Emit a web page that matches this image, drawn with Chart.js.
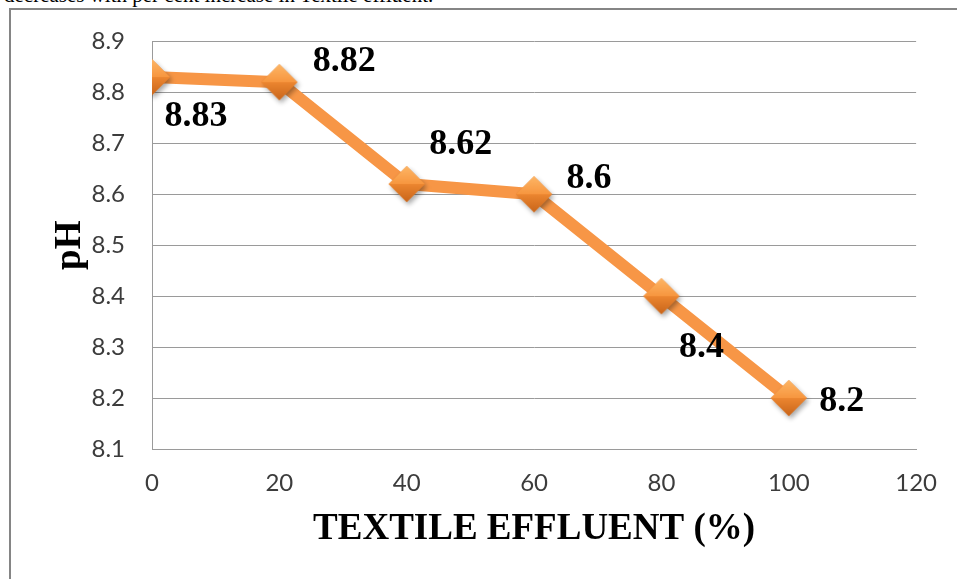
<!DOCTYPE html>
<html>
<head>
<meta charset="utf-8">
<script src="https://cdn.jsdelivr.net/npm/chart.js@4.4.1/dist/chart.umd.min.js"></script>
<style>
  html, body { margin: 0; padding: 0; background: #fff; overflow: hidden; }
  #wrap { position: relative; width: 957px; height: 579px; }
  #caption {
    position: absolute; left: 4px; top: -15px;
    font: 21px "Liberation Serif", serif; line-height: 21px; color: #000; white-space: nowrap;
  }
  #frame {
    position: absolute; left: 9px; top: 8px; width: 980px; height: 620px;
    border: 2px solid #858585; box-sizing: border-box;
  }
  #myChart { position: absolute; left: 0; top: 0; }
</style>
</head>
<body>
<div id="wrap">
  <div id="caption">decreases with per cent increase in Textile effluent.</div>
  <div id="frame"></div>
  <canvas id="myChart" width="957" height="579"></canvas>
</div>
<script>
const effluent = [0, 20, 40, 60, 80, 100];
const phValues = [8.83, 8.82, 8.62, 8.6, 8.4, 8.2];
const phLabels = ['8.83', '8.82', '8.62', '8.6', '8.4', '8.2'];

// where each value label sits relative to its marker (px)
const labelOffsets = [[44, 37], [65, -23], [54, -42], [55, -18], [40, 49], [53, 1]];

// bevelled diamond marker with a soft drop shadow
function makeDiamond(r) {
    const size = r * 2 + 14;
    const c = document.createElement('canvas');
    c.width = size; c.height = size;
    const g = c.getContext('2d');
    const cx = size / 2, cy = size / 2;
    g.save();
    g.shadowColor = 'rgba(0,0,0,0.35)';
    g.shadowBlur = 5;
    g.shadowOffsetX = 2;
    g.shadowOffsetY = 3;
    g.beginPath();
    g.moveTo(cx - r, cy); g.lineTo(cx, cy - r); g.lineTo(cx + r, cy); g.lineTo(cx, cy + r);
    g.closePath();
    g.fillStyle = '#e8812c';
    g.fill();
    g.restore();

    let top = g.createLinearGradient(0, cy - r, 0, cy);
    top.addColorStop(0, '#fdb666');
    top.addColorStop(1, '#f7963f');
    g.beginPath();
    g.moveTo(cx - r, cy); g.lineTo(cx, cy - r); g.lineTo(cx + r, cy);
    g.closePath();
    g.fillStyle = top;
    g.fill();

    let bottom = g.createLinearGradient(0, cy, 0, cy + r);
    bottom.addColorStop(0, '#ec8630');
    bottom.addColorStop(1, '#c9651a');
    g.beginPath();
    g.moveTo(cx - r, cy); g.lineTo(cx + r, cy); g.lineTo(cx, cy + r);
    g.closePath();
    g.fillStyle = bottom;
    g.fill();
    return c;
}

const valueLabels = {
    id: 'valueLabels',
    afterDatasetsDraw(chart) {
        const ctx = chart.ctx;
        const meta = chart.getDatasetMeta(0);
        const size = 36;
        ctx.save();
        ctx.font = 'bold ' + size + 'px "Liberation Serif", serif';
        ctx.fillStyle = '#000';
        ctx.textAlign = 'center';
        ctx.textBaseline = 'alphabetic';
        meta.data.forEach((pt, i) => {
            const [dx, dy] = labelOffsets[i];
            ctx.fillText(phLabels[i], pt.x + dx, pt.y + dy + size * 0.338);
        });
        ctx.restore();
    }
};

const ctx = document.getElementById('myChart').getContext('2d');
const marker = makeDiamond(18);

new Chart(ctx, {
    type: 'line',
    data: {
        datasets: [{
            label: 'pH',
            data: effluent.map((x, i) => ({ x: x, y: phValues[i] })),
            borderColor: '#f79646',
            borderWidth: 12,
            borderCapStyle: 'round',
            borderJoinStyle: 'round',
            fill: false,
            tension: 0,
            pointStyle: marker,
            pointRadius: 18,
            pointHoverRadius: 18
        }]
    },
    options: {
        responsive: false,
        animation: false,
        events: [],
        layout: { padding: { top: 38, right: 37, left: 0, bottom: 0 } },
        plugins: {
            legend: { display: false },
            tooltip: { enabled: false }
        },
        scales: {
            x: {
                type: 'linear',
                min: 0,
                max: 120,
                ticks: {
                    stepSize: 20,
                    padding: 20,
                    color: '#3c3c3c',
                    font: { family: 'Lato', size: 24 }
                },
                grid: { display: false, drawTicks: false },
                border: { display: true, color: '#9a9a9a', width: 1 },
                title: {
                    display: true,
                    text: 'TEXTILE EFFLUENT (%)',
                    color: '#000',
                    font: { family: '"Liberation Serif"', size: 37, weight: 'bold' },
                    padding: { top: 0, bottom: 27 }
                },
                afterFit(scale) { scale.height = 130; }
            },
            y: {
                min: 8.1,
                max: 8.9,
                ticks: {
                    stepSize: 0.1,
                    padding: 27,
                    color: '#3c3c3c',
                    font: { family: 'Lato', size: 24 },
                    callback: v => v.toFixed(1)
                },
                grid: { color: '#9a9a9a', lineWidth: 1, drawTicks: false },
                border: { display: true, color: '#9a9a9a', width: 1 },
                title: {
                    display: true,
                    text: 'pH',
                    color: '#000',
                    font: { family: '"Liberation Serif"', size: 37, weight: 'bold' },
                    padding: { top: 48, bottom: 0 }
                },
                afterFit(scale) { scale.width = 152; }
            }
        }
    },
    plugins: [valueLabels]
});
</script>
</body>
</html>
